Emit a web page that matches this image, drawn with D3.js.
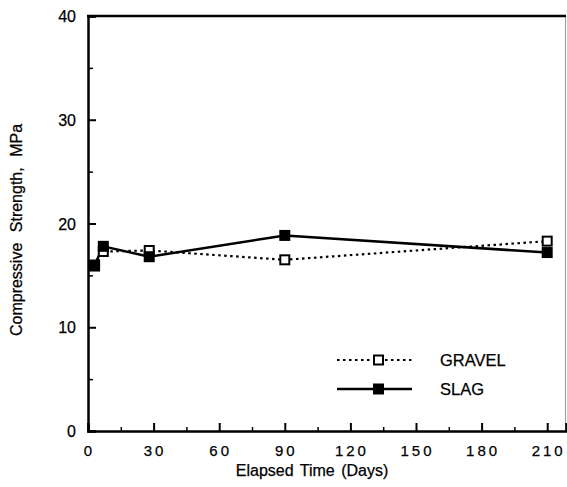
<!DOCTYPE html>
<html>
<head>
<meta charset="utf-8">
<script src="https://cdn.jsdelivr.net/npm/d3@7"></script>
<style>
  body { margin: 0; background: #fff; }
  text { font-family: "Liberation Sans", Arial, sans-serif; fill: #000; stroke: #000; stroke-width: 0.25px; }
</style>
</head>
<body>
<div id="chart"></div>
<script>
// data
const days = [3, 7, 28, 90, 210];
const gravel = [15.9, 17.3, 17.4, 16.5, 18.3];
const slag = [16.0, 17.8, 16.8, 18.85, 17.2];
const xTicks = [0, 30, 60, 90, 120, 150, 180, 210];
const yTicks = [0, 10, 20, 30, 40];
const seriesNames = ['GRAVEL', 'SLAG'];

const W = 567;
const H = 487;
const margin = { top: 16, right: 1, bottom: 56, left: 88 };

const svg = d3.select('#chart')
  .append('svg')
  .attr('width', W)
  .attr('height', H);

const x = d3.scaleLinear()
  .domain([0, 218.6])
  .range([margin.left, W - margin.right]);

const y = d3.scaleLinear()
  .domain([0, 40])
  .range([H - margin.bottom, margin.top]);

const x0 = x(0);
const y0 = y(0);

// right border (faint, as in the scan)
svg.append('line')
  .attr('x1', W - 1.5).attr('x2', W - 1.5)
  .attr('y1', y(40)).attr('y2', y0)
  .attr('stroke', '#999')
  .attr('stroke-width', 1);

// top border
svg.append('line')
  .attr('x1', x0 - 1).attr('x2', W - 1)
  .attr('y1', y(40)).attr('y2', y(40))
  .attr('stroke', '#000')
  .attr('stroke-width', 2.5);

// y axis with inward ticks
const yAxis = svg.append('g')
  .attr('transform', `translate(${x0},0)`)
  .call(d3.axisRight(y).tickValues(yTicks).tickSize(8).tickFormat(''));
yAxis.select('.domain').attr('stroke-width', 2.5);
yAxis.selectAll('.tick line').attr('stroke-width', 2);

svg.append('g')
  .attr('transform', `translate(${x0},0)`)
  .call(d3.axisRight(y).tickValues([5, 15, 25, 35]).tickSize(5).tickFormat(''))
  .call((g) => g.select('.domain').remove())
  .selectAll('.tick line').attr('stroke-width', 1.5);

yTicks.forEach((v) => {
  svg.append('text')
    .attr('x', 76)
    .attr('y', y(v) + 6)
    .attr('text-anchor', 'end')
    .style('font-size', '16px')
    .text(v);
});

// x axis with inward ticks
const xAxis = svg.append('g')
  .attr('transform', `translate(0,${y0})`)
  .call(d3.axisTop(x).tickValues(xTicks).tickSize(8).tickFormat(''));
xAxis.select('.domain').attr('stroke-width', 2.5);
xAxis.selectAll('.tick line').attr('stroke-width', 2);

svg.append('g')
  .attr('transform', `translate(0,${y0})`)
  .call(d3.axisTop(x).tickValues(xTicks.slice(0, -1).map((d) => d + 15)).tickSize(4).tickFormat(''))
  .call((g) => g.select('.domain').remove())
  .selectAll('.tick line').attr('stroke-width', 1.5);

xTicks.forEach((v) => {
  svg.append('text')
    .attr('x', x(v) + 1.5)
    .attr('y', y0 + 25)
    .attr('text-anchor', 'middle')
    .style('font-size', '15px')
    .style('letter-spacing', '3px')
    .text(v);
});

// axis titles
svg.append('text')
  .attr('x', 312)
  .attr('y', 476)
  .attr('text-anchor', 'middle')
  .style('font-size', '16px')
  .style('word-spacing', '2px')
  .text('Elapsed Time (Days)');

svg.append('text')
  .attr('transform', 'translate(22,230) rotate(-90)')
  .attr('text-anchor', 'middle')
  .style('font-size', '16px')
  .style('word-spacing', '6px')
  .text('Compressive Strength, MPa');

const line = d3.line()
  .x((d, i) => x(days[i]))
  .y((d) => y(d));

// gravel: dotted line, open squares
svg.append('path')
  .datum(gravel)
  .attr('fill', 'none')
  .attr('stroke', '#000')
  .attr('stroke-width', 2.2)
  .attr('stroke-dasharray', '2.5,3.5')
  .attr('d', line);

// slag: solid line, filled squares
svg.append('path')
  .datum(slag)
  .attr('fill', 'none')
  .attr('stroke', '#000')
  .attr('stroke-width', 2.5)
  .attr('d', line);

svg.selectAll('.g-pt')
  .data(gravel)
  .enter()
  .append('rect')
  .attr('x', (d, i) => x(days[i]) - 4.5)
  .attr('y', (d) => y(d) - 4.5)
  .attr('width', 9)
  .attr('height', 9)
  .attr('fill', '#fff')
  .attr('stroke', '#000')
  .attr('stroke-width', 2);

svg.selectAll('.s-pt')
  .data(slag)
  .enter()
  .append('rect')
  .attr('x', (d, i) => x(days[i]) - 5.5)
  .attr('y', (d) => y(d) - 5.5)
  .attr('width', 11)
  .attr('height', 11)
  .attr('fill', '#000');

// legend
const legendY = [360, 389];
seriesNames.forEach((name, i) => {
  const g = svg.append('g');
  g.append('line')
    .attr('x1', 337).attr('x2', 412)
    .attr('y1', legendY[i]).attr('y2', legendY[i])
    .attr('stroke', '#000')
    .attr('stroke-width', i === 0 ? 2.2 : 2.5)
    .attr('stroke-dasharray', i === 0 ? '2.5,3.5' : null);
  if (i === 0) {
    g.append('rect')
      .attr('x', 374).attr('y', legendY[i] - 4.5)
      .attr('width', 9).attr('height', 9)
      .attr('fill', '#fff').attr('stroke', '#000').attr('stroke-width', 2);
  } else {
    g.append('rect')
      .attr('x', 373).attr('y', legendY[i] - 5.5)
      .attr('width', 11).attr('height', 11)
      .attr('fill', '#000');
  }
  g.append('text')
    .attr('x', 440)
    .attr('y', legendY[i] + 6)
    .style('font-size', '16.5px')
    .text(name);
});
</script>
</body>
</html>
